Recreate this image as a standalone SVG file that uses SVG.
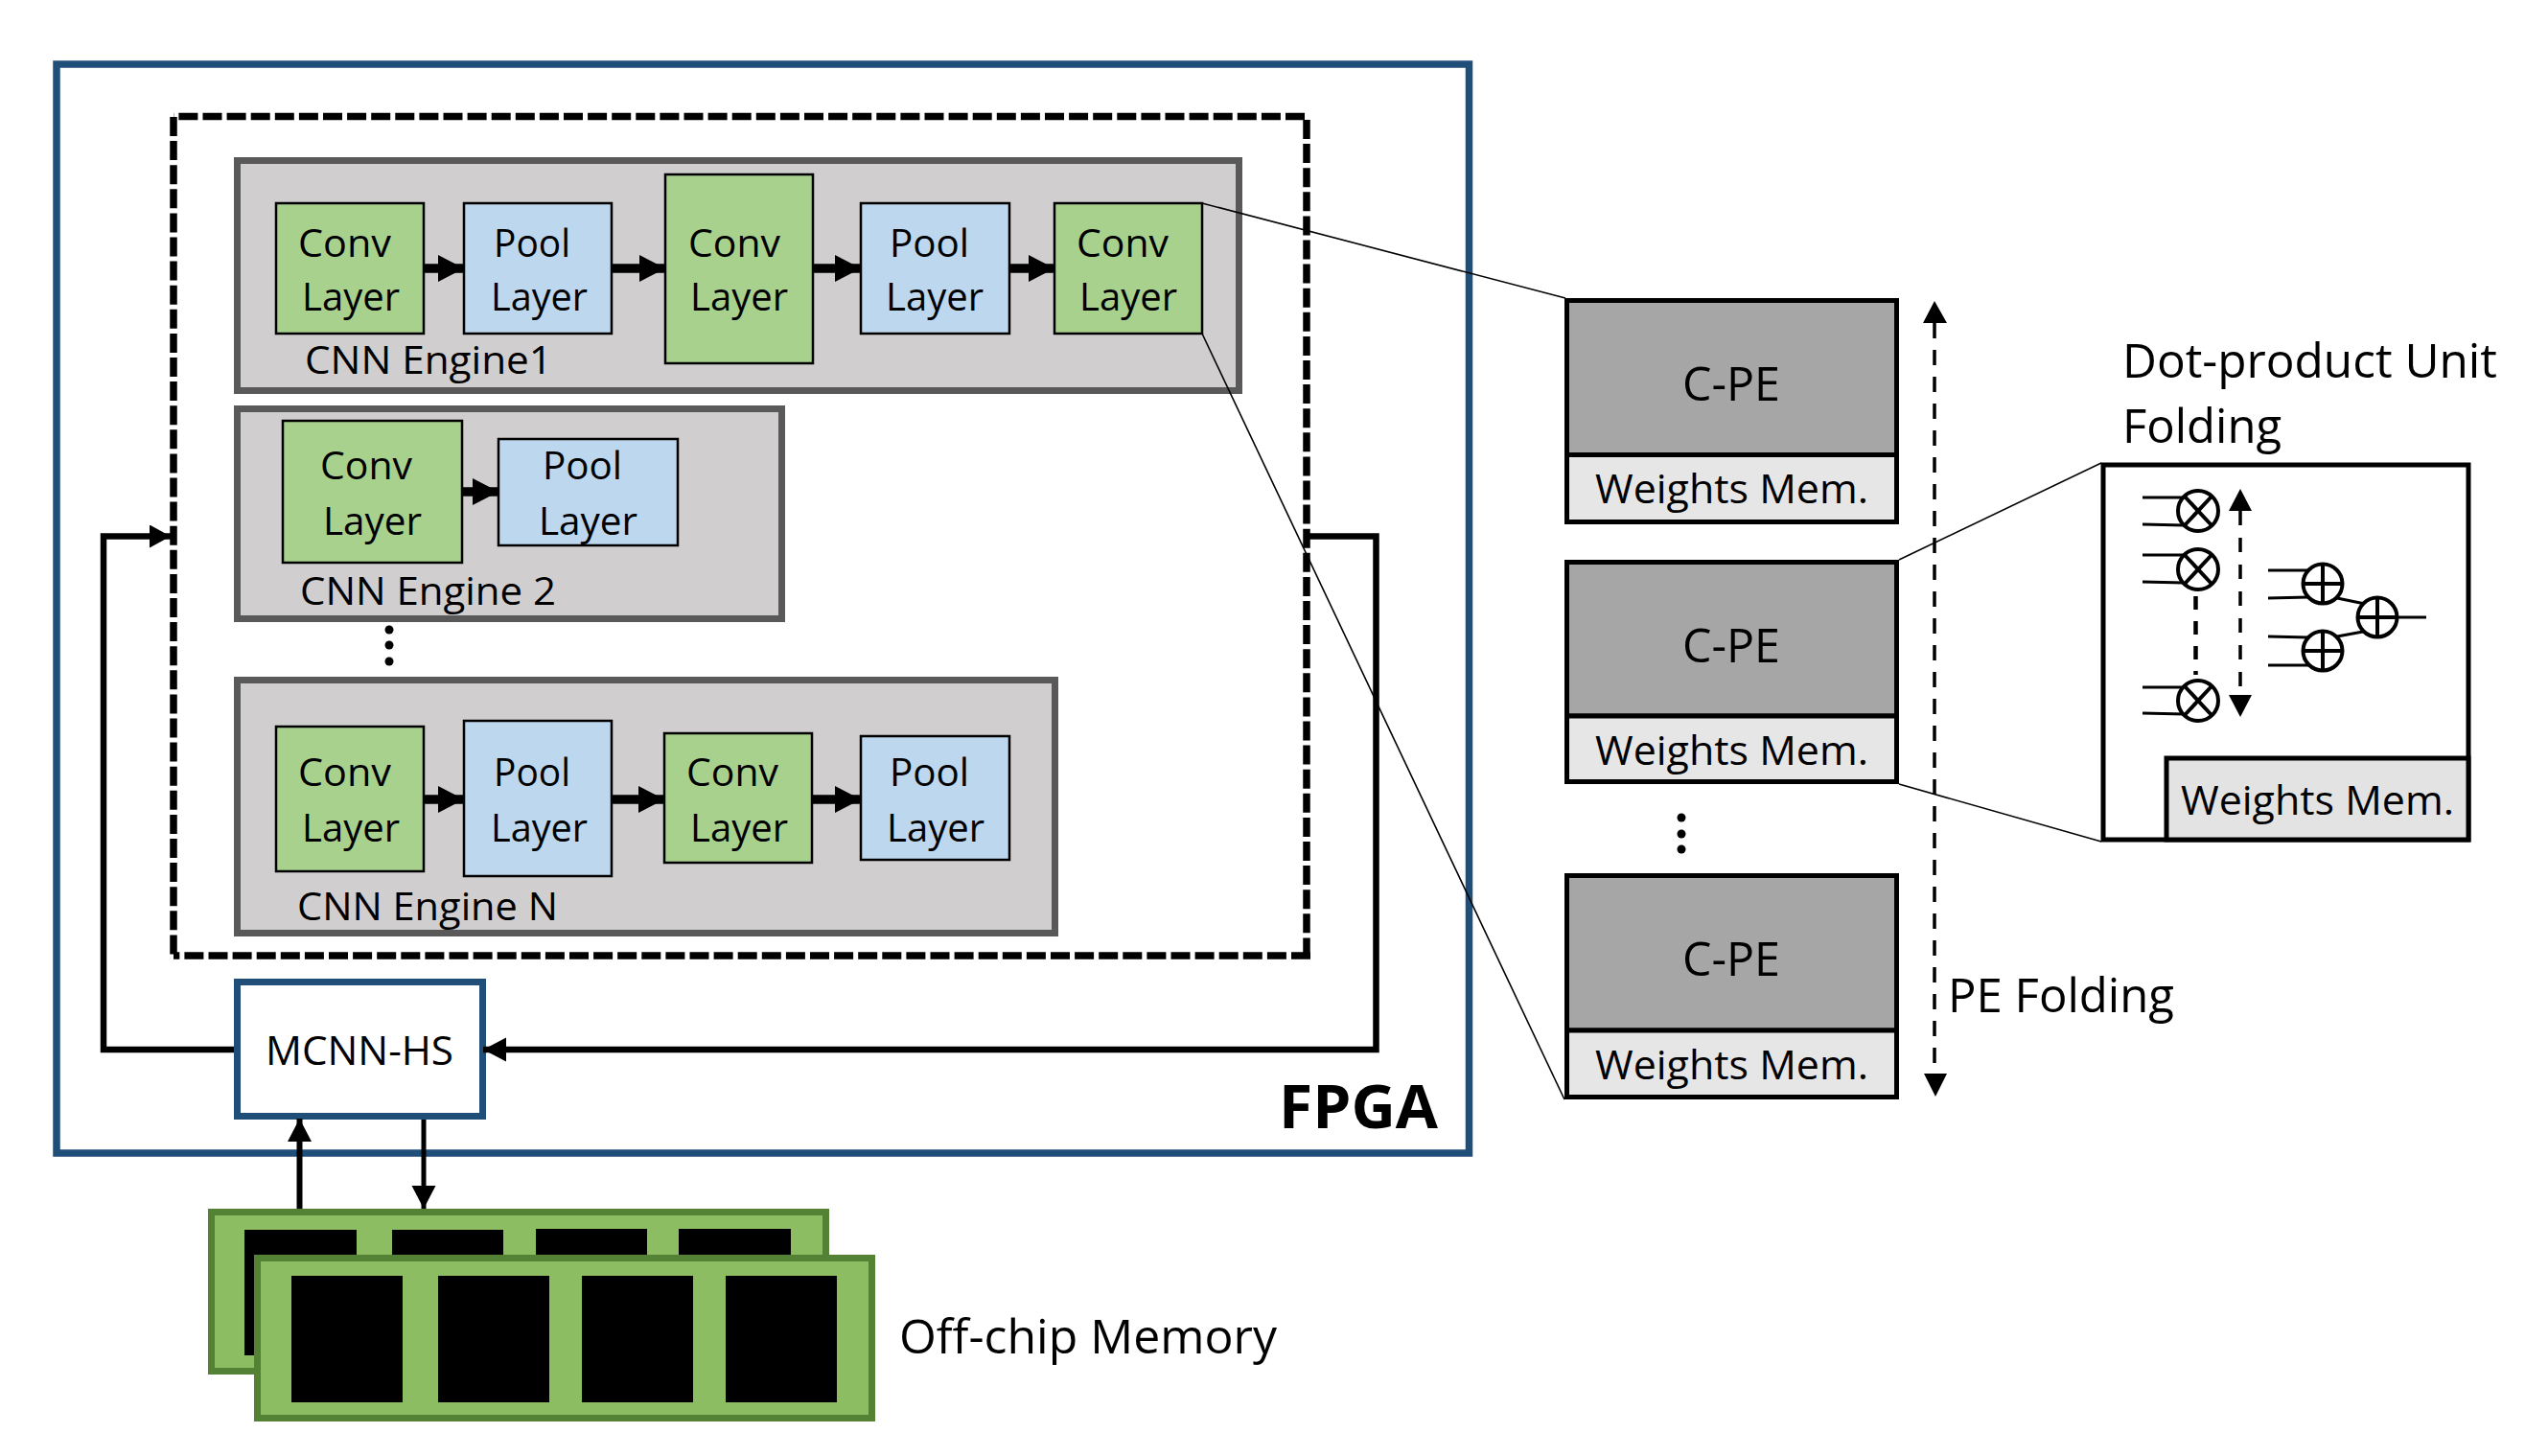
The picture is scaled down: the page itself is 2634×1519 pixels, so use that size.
<svg xmlns="http://www.w3.org/2000/svg" width="2634" height="1519" viewBox="0 0 2634 1519">
<style>
text{font-family:"Open Sans","Noto Sans","Liberation Sans",sans-serif;fill:#000}
.l{font-size:40px}.m{font-size:50px}.w{font-size:42px}
.eng{fill:#d0cece;stroke:#595959;stroke-width:7}
.conv{fill:#a9d18e;stroke:#000;stroke-width:2.5}
.pool{fill:#bdd7ee;stroke:#000;stroke-width:2.5}
.pe{fill:#a6a6a6;stroke:#000;stroke-width:5}
.wm{fill:#e7e6e6;stroke:#000;stroke-width:5}
.chip{fill:#000}
.mem{fill:#8cbd63;stroke:#548235;stroke-width:7}
.t{fill:none;stroke:#000;stroke-width:1.6}
.s{fill:none;stroke:#000;stroke-width:3}
.sym{fill:#fff;stroke:#000;stroke-width:4}
.fl{fill:none;stroke:#000;stroke-width:3.5;stroke-dasharray:16 12}
.ds{fill:none;stroke:#000;stroke-width:7.5;stroke-dasharray:20 5.1}
</style>
<defs>
<marker id="big" markerUnits="userSpaceOnUse" markerWidth="28" markerHeight="30" refX="27" refY="14" orient="auto"><path d="M0 0L27 14L0 28Z"/></marker>
<marker id="lft" markerUnits="userSpaceOnUse" markerWidth="23" markerHeight="25" refX="22" refY="12" orient="auto"><path d="M0 0L22 12L0 24Z"/></marker>
<marker id="med" markerUnits="userSpaceOnUse" markerWidth="25" markerHeight="26" refX="24" refY="12.500" orient="auto"><path d="M0 0L24 12.500L0 25Z"/></marker>
</defs>

<g id="fpga"><rect x="59" y="67" width="1473.500" height="1136" fill="#fff" stroke="#1f4e79" stroke-width="7.500"/>
<text x="1334" y="1177" font-size="63" font-weight="700" textLength="166" lengthAdjust="spacingAndGlyphs">FPGA</text></g>
<g id="mcnn-cluster"><path class="ds" d="M1361 121.500H181M1363 125V1001M181 122V997M1367 997H181"/></g>

<g id="engine1"><rect class="eng" x="247.500" y="167.500" width="1045" height="240"/>
<rect class="conv" x="288" y="212" width="154" height="136"/><text class="l" x="311" y="268" textLength="97" lengthAdjust="spacingAndGlyphs">Conv</text><text class="l" x="315" y="324" textLength="102" lengthAdjust="spacingAndGlyphs">Layer</text>
<rect class="pool" x="484" y="212" width="154" height="136"/><text class="l" x="515" y="268" textLength="80" lengthAdjust="spacingAndGlyphs">Pool</text><text class="l" x="512" y="324" textLength="101" lengthAdjust="spacingAndGlyphs">Layer</text>
<rect class="conv" x="694" y="182" width="154" height="197"/><text class="l" x="718" y="268" textLength="96" lengthAdjust="spacingAndGlyphs">Conv</text><text class="l" x="720" y="324" textLength="102" lengthAdjust="spacingAndGlyphs">Layer</text>
<rect class="pool" x="898" y="212" width="155" height="136"/><text class="l" x="928" y="268" textLength="83" lengthAdjust="spacingAndGlyphs">Pool</text><text class="l" x="924" y="324" textLength="102" lengthAdjust="spacingAndGlyphs">Layer</text>
<rect class="conv" x="1100" y="212" width="154" height="136"/><text class="l" x="1123" y="268" textLength="96" lengthAdjust="spacingAndGlyphs">Conv</text><text class="l" x="1126" y="324" textLength="102" lengthAdjust="spacingAndGlyphs">Layer</text>
<text class="l" x="318" y="390" textLength="258" lengthAdjust="spacingAndGlyphs">CNN Engine1</text></g>

<g id="engine2"><rect class="eng" x="247.500" y="426.500" width="568" height="219"/>
<rect class="conv" x="295" y="439" width="187" height="148"/><text class="l" x="334" y="500" textLength="96" lengthAdjust="spacingAndGlyphs">Conv</text><text class="l" x="337" y="558" textLength="103" lengthAdjust="spacingAndGlyphs">Layer</text>
<rect class="pool" x="520" y="458" width="187" height="111"/><text class="l" x="566" y="500" textLength="83" lengthAdjust="spacingAndGlyphs">Pool</text><text class="l" x="562" y="558" textLength="103" lengthAdjust="spacingAndGlyphs">Layer</text>
<text class="l" x="313" y="631" textLength="267" lengthAdjust="spacingAndGlyphs">CNN Engine 2</text></g>

<g id="engine-dots"><circle cx="406" cy="657" r="4.500"/><circle cx="406" cy="673" r="4.500"/><circle cx="406" cy="690" r="4.500"/></g>

<g id="engineN"><rect class="eng" x="247.500" y="709.500" width="853" height="264"/>
<rect class="conv" x="288" y="758" width="154" height="151"/><text class="l" x="311" y="820" textLength="97" lengthAdjust="spacingAndGlyphs">Conv</text><text class="l" x="315" y="878" textLength="102" lengthAdjust="spacingAndGlyphs">Layer</text>
<rect class="pool" x="484" y="752" width="154" height="162"/><text class="l" x="515" y="820" textLength="80" lengthAdjust="spacingAndGlyphs">Pool</text><text class="l" x="512" y="878" textLength="101" lengthAdjust="spacingAndGlyphs">Layer</text>
<rect class="conv" x="693" y="765" width="154" height="135"/><text class="l" x="716" y="820" textLength="96" lengthAdjust="spacingAndGlyphs">Conv</text><text class="l" x="720" y="878" textLength="102" lengthAdjust="spacingAndGlyphs">Layer</text>
<rect class="pool" x="898" y="768" width="155" height="129"/><text class="l" x="928" y="820" textLength="83" lengthAdjust="spacingAndGlyphs">Pool</text><text class="l" x="925" y="878" textLength="102" lengthAdjust="spacingAndGlyphs">Layer</text>
<text class="l" x="310" y="960" textLength="272" lengthAdjust="spacingAndGlyphs">CNN Engine N</text></g>

<g id="mcnn-hs"><rect x="247.500" y="1024.500" width="256" height="140" fill="#fff" stroke="#1f4e79" stroke-width="7"/><text class="w" x="277" y="1111" textLength="196" lengthAdjust="spacingAndGlyphs">MCNN-HS</text></g>

<g id="off-chip-memory"><rect class="mem" x="220.500" y="1264.500" width="641" height="166"/>
<rect class="chip" x="255" y="1283" width="117" height="131"/><rect class="chip" x="409" y="1283" width="116" height="60"/><rect class="chip" x="559" y="1282" width="116" height="60"/><rect class="chip" x="708" y="1282" width="117" height="60"/>
<rect class="mem" x="268.500" y="1312.500" width="641" height="167"/>
<rect class="chip" x="304" y="1331" width="116" height="132"/><rect class="chip" x="457" y="1331" width="116" height="132"/><rect class="chip" x="607" y="1331" width="116" height="132"/><rect class="chip" x="757" y="1331" width="116" height="132"/>
<text class="m" x="938" y="1412" textLength="394" lengthAdjust="spacingAndGlyphs">Off-chip Memory</text></g>

<g id="c-pe-1"><rect class="pe" x="1634.500" y="313.500" width="344" height="161"/><rect class="wm" x="1634.500" y="474.500" width="344" height="70"/><text class="m" x="1755" y="418" textLength="102" lengthAdjust="spacingAndGlyphs">C-PE</text><text class="w" x="1664" y="525" textLength="285" lengthAdjust="spacingAndGlyphs">Weights Mem.</text></g>
<g id="c-pe-2"><rect class="pe" x="1634.500" y="586.500" width="344" height="160.500"/><rect class="wm" x="1634.500" y="747" width="344" height="68.500"/><text class="m" x="1755" y="691" textLength="102" lengthAdjust="spacingAndGlyphs">C-PE</text><text class="w" x="1664" y="798" textLength="285" lengthAdjust="spacingAndGlyphs">Weights Mem.</text></g>
<g id="pe-dots"><circle cx="1754" cy="853" r="4.500"/><circle cx="1754" cy="870" r="4.500"/><circle cx="1754" cy="886" r="4.500"/></g>
<g id="c-pe-3"><rect class="pe" x="1634.500" y="913.500" width="344" height="161.500"/><rect class="wm" x="1634.500" y="1075" width="344" height="69.500"/><text class="m" x="1755" y="1018" textLength="102" lengthAdjust="spacingAndGlyphs">C-PE</text><text class="w" x="1664" y="1126" textLength="285" lengthAdjust="spacingAndGlyphs">Weights Mem.</text></g>

<g id="dot-product-unit"><rect x="2194" y="485" width="381" height="391" fill="#fff" stroke="#000" stroke-width="5"/>
<rect x="2260" y="791" width="315" height="85" fill="#e3e3e3" stroke="#000" stroke-width="5"/>
<text class="w" x="2275" y="850" textLength="285" lengthAdjust="spacingAndGlyphs">Weights Mem.</text>
<path class="s" d="M2235 519H2278M2235 547L2278 548M2235 579H2278M2235 607L2278 608M2235 717H2278M2235 744L2278 745M2366 595H2408M2366 624L2408 623M2366 664L2408 665M2366 694H2408M2438 624L2467 630M2438 664L2465 659M2500 644H2531"/>
<g class="sym"><circle cx="2293" cy="533" r="21"/><path d="M2279 518L2307 548M2307 518L2279 548"/><circle cx="2293" cy="594" r="21"/><path d="M2279 579L2307 609M2307 579L2279 609"/><circle cx="2293" cy="731" r="21"/><path d="M2279 716L2307 746M2307 716L2279 746"/>
<circle cx="2423" cy="609" r="20.500"/><path d="M2403 609H2443M2423 589V629"/><circle cx="2423" cy="679" r="20.500"/><path d="M2403 679H2443M2423 659V699"/><circle cx="2480" cy="644" r="20.500"/><path d="M2460 644H2500M2480 624V664"/></g>
<path d="M2290.500 622V704" fill="none" stroke="#000" stroke-width="4.500" stroke-dasharray="14 12"/>
<path d="M2337 533V725" fill="none" stroke="#000" stroke-width="3.500" stroke-dasharray="15 13"/>
<path d="M2337 510L2349 533H2325ZM2337 748L2325 725H2349Z"/></g>

<g id="labels"><text class="m" x="2214" y="394" textLength="391" lengthAdjust="spacingAndGlyphs">Dot-product Unit</text><text class="m" x="2214" y="462" textLength="166" lengthAdjust="spacingAndGlyphs">Folding</text><text class="m" x="2032" y="1056" textLength="236" lengthAdjust="spacingAndGlyphs">PE Folding</text></g>

<g id="connectors">
<path d="M442 280H484" fill="none" stroke="#000" stroke-width="9.500" marker-end="url(#big)"/>
<path d="M638 280H694" fill="none" stroke="#000" stroke-width="9.500" marker-end="url(#big)"/>
<path d="M848 280H898" fill="none" stroke="#000" stroke-width="9.500" marker-end="url(#big)"/>
<path d="M1053 280H1100" fill="none" stroke="#000" stroke-width="9.500" marker-end="url(#big)"/>
<path d="M482 513H520" fill="none" stroke="#000" stroke-width="9.500" marker-end="url(#big)"/>
<path d="M442 834H484" fill="none" stroke="#000" stroke-width="9.500" marker-end="url(#big)"/>
<path d="M638 834H693" fill="none" stroke="#000" stroke-width="9.500" marker-end="url(#big)"/>
<path d="M847 834H898" fill="none" stroke="#000" stroke-width="9.500" marker-end="url(#big)"/>
<path d="M244 1095H108V559.500H178" fill="none" stroke="#000" stroke-width="6.500" marker-end="url(#lft)"/>
<path d="M1363 559.500H1435.500V1095H504" fill="none" stroke="#000" stroke-width="6.500" marker-end="url(#med)"/>
<path d="M312.500 1261V1167" fill="none" stroke="#000" stroke-width="6" marker-end="url(#med)"/>
<path d="M442 1168V1261" fill="none" stroke="#000" stroke-width="5" marker-end="url(#med)"/>
<path class="t" d="M1254 212L1633 311M1254 348L1632 1147M1981 584L2192 483M1981 818L2192 878"/>
<path class="fl" d="M2018 337V1120"/>
<path d="M2018 314L2031 337H2006ZM2019 1144L2007 1120H2031Z"/>
</g>
</svg>
